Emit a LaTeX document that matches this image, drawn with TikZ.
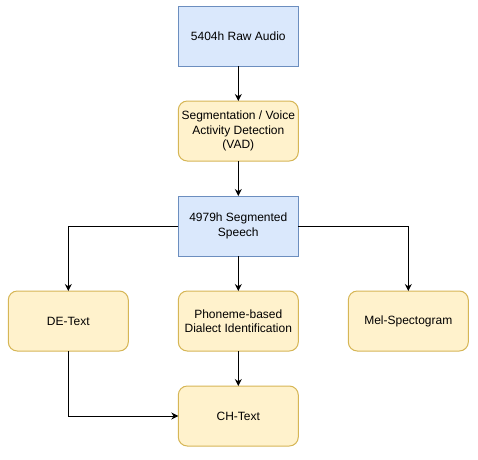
\documentclass[tikz,border=0pt]{standalone}
\usepackage{fontspec}
\setmainfont{Liberation Sans}
\usetikzlibrary{positioning,arrows.meta}

\definecolor{datafill}{HTML}{DAE8FC}
\definecolor{dataline}{HTML}{6C8EBF}
\definecolor{procfill}{HTML}{FFF2CC}
\definecolor{procline}{HTML}{D6B656}
\tikzset{
    datablock/.style={draw=dataline, fill=datafill, line width=1pt, minimum width=120pt, minimum height=60pt, align=center, inner sep=0pt, outer sep=0pt},
    procblock/.style={draw=procline, fill=procfill, line width=1pt, rounded corners=9pt, minimum width=120pt, minimum height=60pt, align=center, inner sep=0pt, outer sep=0pt},
    flow/.style={-{Stealth[length=7pt,width=7pt]}, line width=1pt}
}

\begin{document}
\begin{tikzpicture}[font=\fontsize{12}{14.4}\selectfont, node distance=35pt]
    \useasboundingbox(0,0)rectangle(478pt,-459pt);
    \node[datablock](raw) at (238.3pt,-36pt){5404h Raw Audio};
    \node[procblock, below=of raw](vad){Segmentation / Voice\\Activity Detection\\(VAD)};
    \node[datablock, below=of vad](seg){4979h Segmented\\Speech};
    \node[procblock, below=of seg](pdi){Phoneme-based\\Dialect Identification};
    \node[procblock, left=50pt of pdi](de){DE-Text};
    \node[procblock, right=50pt of pdi](mel){Mel-Spectogram};
    \node[procblock, below=of pdi](ch){CH-Text};
    \draw[flow](raw)--(vad);
    \draw[flow](vad)--(seg);
    \draw[flow](seg)--(pdi);
    \draw[flow](seg.west)-|(de.north);
    \draw[flow](seg.east)-|(mel.north);
    \draw[flow](pdi)--(ch);
    \draw[flow](de.south)|-(ch.west);
\end{tikzpicture}
\end{document}
